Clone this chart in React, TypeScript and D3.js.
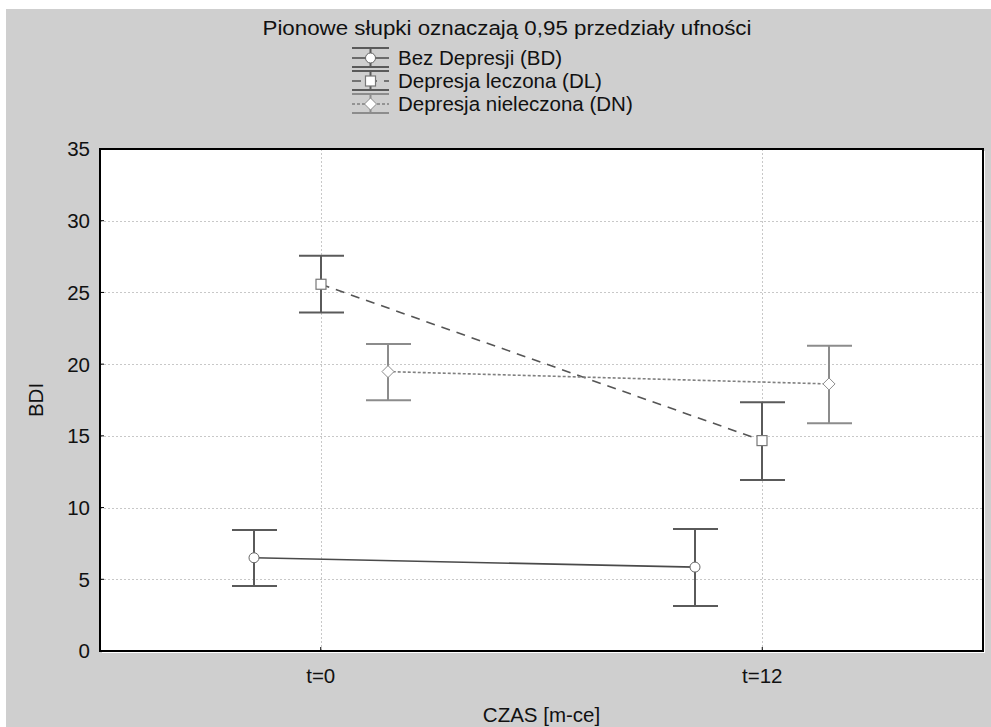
import React, { useEffect, useRef } from 'react';
import * as d3 from 'd3';

// dane
const categories = ['t=0', 't=12'];
const seriesNames = ['Bez Depresji (BD)', 'Depresja leczona (DL)', 'Depresja nieleczona (DN)'];
const bdMean = [6.5, 5.85];
const bdLow = [4.53, 3.14];
const bdHigh = [8.44, 8.5];
const dlMean = [25.57, 14.67];
const dlLow = [23.6, 11.92];
const dlHigh = [27.55, 17.34];
const dnMean = [19.48, 18.62];
const dnLow = [17.48, 15.88];
const dnHigh = [21.41, 21.29];
const yTicks = [0, 5, 10, 15, 20, 25, 30, 35];

const W = 991;
const H = 727;
const FONT = '"Liberation Sans", Arial, sans-serif';
const FS = 20.5;

export default function App() {
  const svgRef = useRef<SVGSVGElement>(null);

  useEffect(() => {
    const svg = d3.select(svgRef.current);
    svg.selectAll('*').remove();

    const plot = { left: 100, right: 983, top: 149, bottom: 651 };

    // tło
    svg.append('rect').attr('width', W).attr('height', H).attr('fill', '#fff');
    svg.append('rect').attr('x', 6).attr('y', 9).attr('width', W - 6).attr('height', H - 9).attr('fill', '#cfcfcf');

    const x = d3.scalePoint<string>().domain(categories).range([plot.left, plot.right]).padding(0.5);
    const y = d3.scaleLinear().domain([0, 35]).range([plot.bottom, plot.top]);
    const offset = 67;

    // cień ramki
    svg.append('rect')
      .attr('x', plot.left + 2).attr('y', plot.top + 2)
      .attr('width', plot.right - plot.left).attr('height', plot.bottom - plot.top)
      .attr('fill', '#fff');
    svg.append('rect')
      .attr('x', plot.left).attr('y', plot.top)
      .attr('width', plot.right - plot.left).attr('height', plot.bottom - plot.top)
      .attr('fill', '#fff');

    // siatka
    const grid = svg.append('g').attr('stroke', '#c8c8c8').attr('stroke-width', 1).attr('stroke-dasharray', '2,2');
    yTicks.filter(t => t > 0 && t < 35).forEach(t => {
      grid.append('line').attr('x1', plot.left).attr('x2', plot.right)
        .attr('y1', Math.round(y(t)) + 0.5).attr('y2', Math.round(y(t)) + 0.5);
    });
    categories.forEach(c => {
      grid.append('line').attr('y1', plot.top).attr('y2', plot.bottom)
        .attr('x1', Math.round(x(c)!) + 0.5).attr('x2', Math.round(x(c)!) + 0.5);
    });

    const series = [
      { mean: bdMean, low: bdLow, high: bdHigh, dx: -offset, lineColor: '#4a4a4a', dash: null, barColor: '#5a5a5a', markColor: '#666', marker: 'circle' },
      { mean: dlMean, low: dlLow, high: dlHigh, dx: 0, lineColor: '#555', dash: '9,7', barColor: '#5a5a5a', markColor: '#777', marker: 'square' },
      { mean: dnMean, low: dnLow, high: dnHigh, dx: offset, lineColor: '#808080', dash: '3,2', barColor: '#8c8c8c', markColor: '#8c8c8c', marker: 'diamond' },
    ];

    const drawMarker = (g: any, kind: string, cx: number, cy: number, color: string) => {
      if (kind === 'circle') {
        g.append('circle').attr('cx', cx).attr('cy', cy).attr('r', 5)
          .attr('fill', '#fff').attr('stroke', color).attr('stroke-width', 1);
      } else if (kind === 'square') {
        g.append('rect').attr('x', cx - 5).attr('y', cy - 5).attr('width', 10).attr('height', 10)
          .attr('fill', '#fff').attr('stroke', color).attr('stroke-width', 1.2);
      } else {
        g.append('path').attr('d', `M${cx},${cy - 6}L${cx + 6},${cy}L${cx},${cy + 6}L${cx - 6},${cy}Z`)
          .attr('fill', '#fff').attr('stroke', color).attr('stroke-width', 1);
      }
    };

    const marks = svg.append('g');
    // linie
    series.forEach(s => {
      const line = d3.line<number>()
        .x((_, i) => x(categories[i])! + s.dx)
        .y(d => y(d));
      marks.append('path').datum(s.mean).attr('d', line)
        .attr('fill', 'none').attr('stroke', s.lineColor).attr('stroke-width', 1.6)
        .attr('stroke-dasharray', s.dash);
    });
    // słupki błędów i znaczniki
    series.forEach(s => {
      categories.forEach((c, i) => {
        const cx = Math.round(x(c)! + s.dx);
        const g = marks.append('g').attr('stroke', s.barColor).attr('stroke-width', 2);
        g.append('line').attr('x1', cx).attr('x2', cx).attr('y1', y(s.low[i])).attr('y2', y(s.high[i]));
        g.append('line').attr('x1', cx - 22).attr('x2', cx + 23).attr('y1', y(s.low[i])).attr('y2', y(s.low[i]));
        g.append('line').attr('x1', cx - 22).attr('x2', cx + 23).attr('y1', y(s.high[i])).attr('y2', y(s.high[i]));
        drawMarker(marks, s.marker, cx, y(s.mean[i]), s.markColor);
      });
    });

    // ramka
    svg.append('rect')
      .attr('x', plot.left).attr('y', plot.top)
      .attr('width', plot.right - plot.left).attr('height', plot.bottom - plot.top)
      .attr('fill', 'none').attr('stroke', '#000').attr('stroke-width', 2);

    // osie
    const yAxis = svg.append('g').attr('font-family', FONT).attr('font-size', FS).attr('fill', '#111');
    yTicks.forEach(t => {
      yAxis.append('text').attr('x', 90).attr('y', y(t)).attr('dy', '0.36em')
        .attr('text-anchor', 'end').text(t);
      svg.append('line').attr('x1', plot.left).attr('x2', plot.left + 4)
        .attr('y1', y(t)).attr('y2', y(t)).attr('stroke', '#000');
    });
    categories.forEach(c => {
      svg.append('line').attr('x1', x(c)!).attr('x2', x(c)!)
        .attr('y1', plot.bottom).attr('y2', plot.bottom - 4).attr('stroke', '#000');
      svg.append('text').attr('x', x(c)!).attr('y', 683)
        .attr('text-anchor', 'middle').attr('font-family', FONT).attr('font-size', FS).attr('fill', '#111')
        .text(c);
    });
    svg.append('text').attr('x', (plot.left + plot.right) / 2).attr('y', 722)
      .attr('text-anchor', 'middle').attr('font-family', FONT).attr('font-size', FS).attr('fill', '#111')
      .text('CZAS [m-ce]');
    svg.append('text').attr('transform', `translate(43, ${(plot.top + plot.bottom) / 2}) rotate(-90)`)
      .attr('text-anchor', 'middle').attr('font-family', FONT).attr('font-size', FS).attr('fill', '#111')
      .text('BDI');

    // tytuł i legenda
    svg.append('text').attr('x', 507).attr('y', 35)
      .attr('text-anchor', 'middle').attr('font-family', FONT).attr('font-size', FS).attr('fill', '#111')
      .attr('textLength', 489).attr('lengthAdjust', 'spacingAndGlyphs')
      .text('Pionowe słupki oznaczają 0,95 przedziały ufności');

    const legend = svg.append('g');
    series.forEach((s, i) => {
      const cy = 58 + i * 23;
      const lx = 352;
      const g = legend.append('g').attr('stroke', s.barColor).attr('stroke-width', 2);
      g.append('line').attr('x1', lx).attr('x2', lx + 37).attr('y1', cy - 10).attr('y2', cy - 10);
      g.append('line').attr('x1', lx).attr('x2', lx + 37).attr('y1', cy + 9).attr('y2', cy + 9);
      g.append('line').attr('x1', lx + 18.5).attr('x2', lx + 18.5).attr('y1', cy - 10).attr('y2', cy + 9);
      legend.append('line').attr('x1', lx).attr('x2', lx + 37).attr('y1', cy).attr('y2', cy)
        .attr('stroke', s.lineColor).attr('stroke-width', 1.6).attr('stroke-dasharray', s.dash);
      drawMarker(legend, s.marker, lx + 18.5, cy, s.markColor);
      legend.append('text').attr('x', 398).attr('y', cy).attr('dy', '0.36em')
        .attr('font-family', FONT).attr('font-size', FS).attr('fill', '#111')
        .text(seriesNames[i]);
    });
  }, []);

  return (
    <svg ref={svgRef} width={W} height={H}
      style={{ position: 'absolute', left: 0, top: 0, display: 'block' }} />
  );
}
